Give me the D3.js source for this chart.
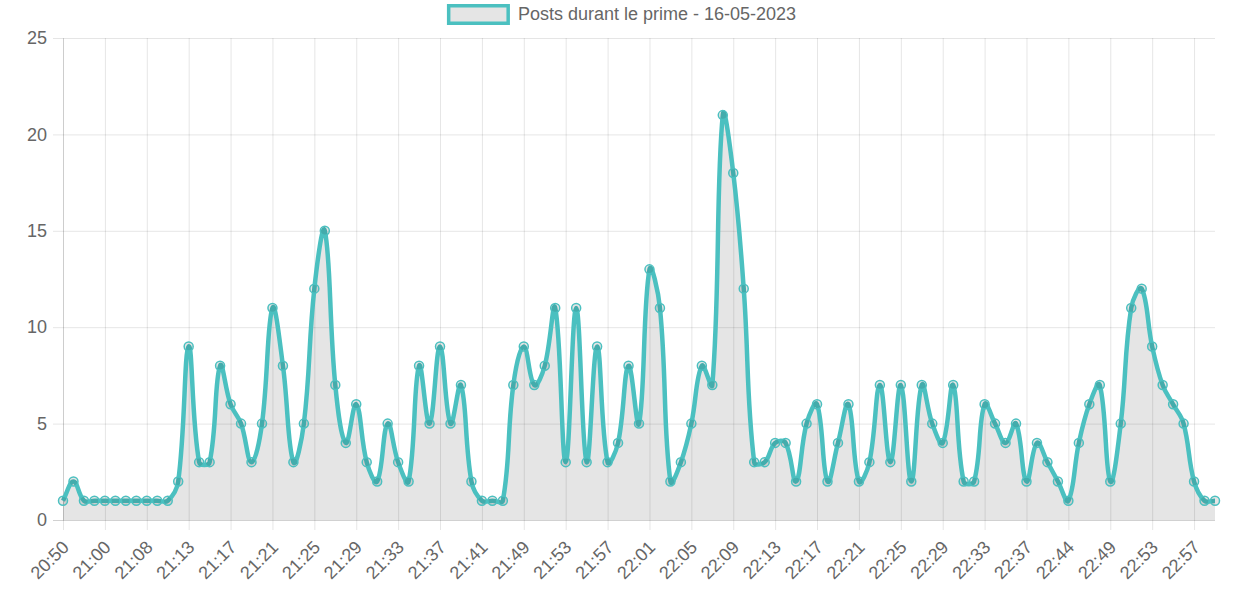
<!doctype html>
<html>
<head>
<meta charset="utf-8">
<title>Posts durant le prime</title>
<style>
    body { margin: 0; background: #fff; }
    svg { display: block; font-family: "Liberation Sans", Arial, sans-serif; }
</style>
</head>
<body>

<svg id="chart" width="1243" height="596"></svg>

<script src="https://d3js.org/d3.v7.min.js"></script>

<script>

    // ---- data ----

    var seriesName = 'Posts durant le prime - 16-05-2023';

    var minutes = [
        "20:50","20:53","20:55","20:58","21:00","21:02","21:04","21:06","21:08","21:09",
        "21:10","21:12","21:13","21:14","21:15","21:16","21:17","21:18","21:19","21:20",
        "21:21","21:22","21:23","21:24","21:25","21:26","21:27","21:28","21:29","21:30",
        "21:31","21:32","21:33","21:34","21:35","21:36","21:37","21:38","21:39","21:40",
        "21:41","21:43","21:45","21:47","21:49","21:50","21:51","21:52","21:53","21:54",
        "21:55","21:56","21:57","21:58","21:59","22:00","22:01","22:02","22:03","22:04",
        "22:05","22:06","22:07","22:08","22:09","22:10","22:11","22:12","22:13","22:14",
        "22:15","22:16","22:17","22:18","22:19","22:20","22:21","22:22","22:23","22:24",
        "22:25","22:26","22:27","22:28","22:29","22:30","22:31","22:32","22:33","22:34",
        "22:35","22:36","22:37","22:39","22:40","22:42","22:44","22:45","22:46","22:48",
        "22:49","22:50","22:51","22:52","22:53","22:54","22:55","22:56","22:57","22:58","22:59"
    ];

    var posts = [
        1, 2, 1, 1, 1, 1, 1, 1, 1, 1,
        1, 2, 9, 3, 3, 8, 6, 5, 3, 5,
        11, 8, 3, 5, 12, 15, 7, 4, 6, 3,
        2, 5, 3, 2, 8, 5, 9, 5, 7, 2,
        1, 1, 1, 7, 9, 7, 8, 11, 3, 11,
        3, 9, 3, 4, 8, 5, 13, 11, 2, 3,
        5, 8, 7, 21, 18, 12, 3, 3, 4, 4,
        2, 5, 6, 2, 4, 6, 2, 3, 7, 3,
        7, 2, 7, 5, 4, 7, 2, 2, 6, 5,
        4, 5, 2, 4, 3, 2, 1, 4, 6, 7,
        2, 5, 11, 12, 9, 7, 6, 5, 2, 1, 1
    ];

    // labels that survive the auto skip (one every 4 points)
    var shownMinutes = minutes.filter(function(d, i){ return i % 4 === 0; });

    var yTicks = [0, 5, 10, 15, 20, 25];

    // ---- layout ----

    var plotLeft = 63, plotRight = 1215, plotTop = 38, plotBottom = 520;
    var teal = 'rgb(75, 192, 192)';
    var grid = 'rgba(0, 0, 0, 0.1)';
    var textColor = '#666';
    var fontSize = '18px';

    var svg = d3.select('#chart');

    var x = d3.scalePoint().domain(minutes).range([plotLeft, plotRight]);
    var y = d3.scaleLinear().domain([0, 25]).range([plotBottom, plotTop]);

    // bezier like the canvas chart lib does it (tension 0.4, control points kept in the area)
    function splineCurve(tension){
        return function(context){
            var pts, line;
            function clampX(v){ return Math.max(plotLeft, Math.min(plotRight, v)); }
            function clampY(v){ return Math.max(plotTop, Math.min(plotBottom, v)); }
            return {
                areaStart: function(){ line = 0; },
                areaEnd: function(){ line = NaN; },
                lineStart: function(){ pts = []; },
                point: function(px, py){ pts.push([+px, +py]); },
                lineEnd: function(){
                    var n = pts.length;
                    if(!n) return;
                    var cps = pts.map(function(c, i){
                        var p = pts[Math.max(i - 1, 0)], nx = pts[Math.min(i + 1, n - 1)];
                        var d01 = Math.hypot(c[0] - p[0], c[1] - p[1]);
                        var d12 = Math.hypot(nx[0] - c[0], nx[1] - c[1]);
                        var s01 = d01 / (d01 + d12), s12 = d12 / (d01 + d12);
                        if(isNaN(s01)) s01 = 0;
                        if(isNaN(s12)) s12 = 0;
                        var fa = tension * s01, fb = tension * s12;
                        return {
                            prev: [clampX(c[0] - fa * (nx[0] - p[0])), clampY(c[1] - fa * (nx[1] - p[1]))],
                            next: [clampX(c[0] + fb * (nx[0] - p[0])), clampY(c[1] + fb * (nx[1] - p[1]))]
                        };
                    });
                    if(line) context.lineTo(pts[0][0], pts[0][1]);
                    else context.moveTo(pts[0][0], pts[0][1]);
                    for(var i = 1; i < n; i++){
                        context.bezierCurveTo(cps[i - 1].next[0], cps[i - 1].next[1],
                                              cps[i].prev[0], cps[i].prev[1],
                                              pts[i][0], pts[i][1]);
                    }
                    if(line || (line !== 0 && n === 1)) context.closePath();
                    line = 1 - line;
                }
            };
        };
    }

    // ---- grid + axes ----

    var yAxis = svg.append('g')
        .attr('transform', 'translate(' + plotLeft + ',0)')
        .call(d3.axisLeft(y).tickValues(yTicks).tickSize(10).tickSizeOuter(0).tickPadding(6));
    yAxis.selectAll('.tick line')
        .attr('x1', plotRight - plotLeft)
        .attr('stroke', function(d){ return d === 0 ? 'rgba(0,0,0,0.18)' : grid; });
    yAxis.select('.domain').attr('stroke', grid);
    yAxis.selectAll('.tick text')
        .attr('fill', textColor)
        .style('font-size', fontSize)
        .style('font-family', '"Liberation Sans", Arial, sans-serif');

    var xAxis = svg.append('g')
        .attr('transform', 'translate(0,' + plotBottom + ')')
        .call(d3.axisBottom(x).tickValues(shownMinutes).tickSize(10).tickSizeOuter(0));
    xAxis.select('.domain').remove();
    xAxis.selectAll('.tick line')
        .attr('y1', plotTop - plotBottom)
        .attr('stroke', grid);
    xAxis.selectAll('.tick text')
        .attr('fill', textColor)
        .style('font-size', fontSize)
        .style('font-family', '"Liberation Sans", Arial, sans-serif')
        .attr('text-anchor', 'end')
        .attr('y', 0)
        .attr('dy', '0.35em')
        .attr('transform', 'translate(2,24) rotate(-45)');

    // ---- series ----

    var curve = splineCurve(0.4);

    var area = d3.area()
        .x(function(d, i){ return x(minutes[i]); })
        .y0(y(0))
        .y1(function(d){ return y(d); })
        .curve(curve);

    var line = d3.line()
        .x(function(d, i){ return x(minutes[i]); })
        .y(function(d){ return y(d); })
        .curve(curve);

    svg.append('path')
        .datum(posts)
        .attr('d', area)
        .attr('fill', 'rgba(0, 0, 0, 0.1)');

    svg.append('path')
        .datum(posts)
        .attr('d', line)
        .attr('fill', 'none')
        .attr('stroke', teal)
        .attr('stroke-width', 4.5)
        .attr('stroke-linejoin', 'round');

    svg.append('g')
        .selectAll('circle')
        .data(posts)
        .enter()
        .append('circle')
        .attr('cx', function(d, i){ return x(minutes[i]); })
        .attr('cy', function(d){ return y(d); })
        .attr('r', 4.5)
        .attr('fill', 'rgba(0, 0, 0, 0.1)')
        .attr('stroke', teal)
        .attr('stroke-width', 1.5);

    // ---- legend ----

    var legend = svg.append('g');
    var legendText = legend.append('text')
        .attr('y', 14)
        .attr('dy', '0.35em')
        .attr('fill', textColor)
        .style('font-size', fontSize)
        .text(seriesName);
    var textW = legendText.node().getComputedTextLength();
    var boxW = 63, gap = 8;
    var startX = (1243 - (boxW + gap + textW)) / 2;
    legend.insert('rect', 'text')
        .attr('x', startX + 1.75)
        .attr('y', 5.75)
        .attr('width', boxW - 3.5)
        .attr('height', 17.5)
        .attr('fill', 'rgba(0, 0, 0, 0.1)')
        .attr('stroke', teal)
        .attr('stroke-width', 3.5);
    legendText.attr('x', startX + boxW + gap);

</script>

</body>
</html>
